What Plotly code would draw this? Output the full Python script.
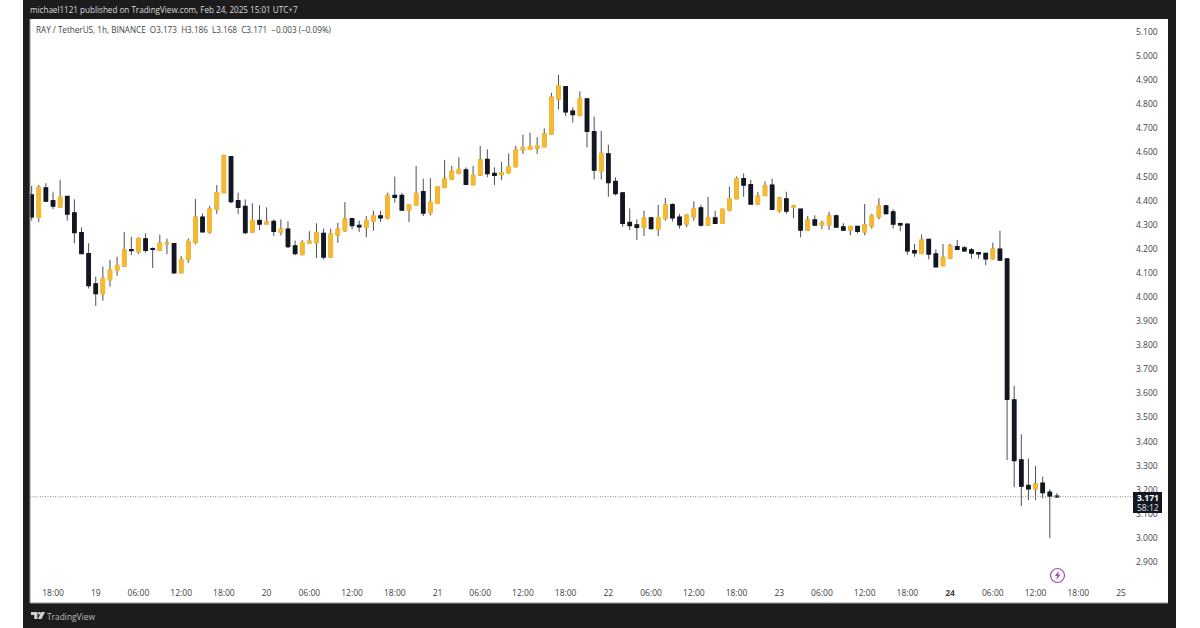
import pandas as pd
import plotly.graph_objects as go

# Hourly RAY/USDT candles
opens = [4.423,4.331,4.452,4.400,4.374,4.417,4.349,4.267,4.180,4.054,4.014,4.072,4.111,4.129,4.196,4.188,4.241,4.200,4.194,4.221,
 4.221,4.101,4.156,4.226,4.331,4.270,4.364,4.433,4.582,4.400,4.376,4.270,4.317,4.302,4.313,4.270,4.281,4.212,4.176,4.224,
 4.226,4.264,4.166,4.257,4.275,4.325,4.297,4.289,4.314,4.336,4.328,4.421,4.421,4.361,4.381,4.437,4.351,4.389,4.455,4.490,
 4.513,4.527,4.466,4.506,4.571,4.513,4.508,4.516,4.541,4.610,4.613,4.618,4.624,4.677,4.822,4.873,4.771,4.754,4.822,4.686,
 4.523,4.594,4.479,4.432,4.309,4.299,4.289,4.328,4.281,4.327,4.383,4.331,4.303,4.333,4.369,4.299,4.328,4.306,4.361,4.408,
 4.491,4.466,4.386,4.421,4.464,4.358,4.407,4.372,4.364,4.278,4.320,4.300,4.300,4.336,4.291,4.278,4.293,4.270,4.295,4.333,
 4.378,4.353,4.304,4.302,4.192,4.181,4.239,4.178,4.130,4.162,4.209,4.203,4.195,4.184,4.181,4.159,4.198,4.158,3.572,3.323,
 3.217,3.204,3.227,3.189,3.173]
highs = [4.461,4.465,4.472,4.434,4.486,4.419,4.405,4.289,4.223,4.084,4.126,4.154,4.167,4.270,4.250,4.248,4.264,4.206,4.259,4.242,
 4.222,4.170,4.243,4.407,4.347,4.378,4.465,4.591,4.584,4.433,4.405,4.389,4.381,4.372,4.322,4.322,4.314,4.234,4.236,4.273,
 4.306,4.284,4.284,4.308,4.394,4.328,4.317,4.336,4.358,4.358,4.433,4.500,4.433,4.386,4.544,4.491,4.493,4.458,4.569,4.544,
 4.580,4.538,4.544,4.627,4.613,4.538,4.560,4.596,4.627,4.674,4.682,4.663,4.700,4.848,4.922,4.874,4.787,4.854,4.823,4.749,
 4.690,4.632,4.497,4.433,4.368,4.322,4.358,4.333,4.382,4.411,4.389,4.345,4.345,4.397,4.383,4.416,4.358,4.364,4.458,4.500,
 4.513,4.486,4.436,4.480,4.491,4.416,4.437,4.382,4.364,4.336,4.339,4.317,4.353,4.343,4.306,4.295,4.295,4.386,4.345,4.410,
 4.383,4.364,4.309,4.302,4.220,4.260,4.239,4.198,4.220,4.220,4.237,4.212,4.203,4.184,4.181,4.226,4.275,4.160,3.631,3.430,
 3.329,3.298,3.254,3.202,3.186]
lows = [4.317,4.311,4.396,4.364,4.372,4.317,4.223,4.178,4.035,3.963,3.985,4.043,4.088,4.126,4.174,4.179,4.184,4.120,4.190,4.178,
 4.100,4.098,4.142,4.219,4.270,4.262,4.345,4.432,4.389,4.344,4.261,4.267,4.278,4.299,4.253,4.256,4.203,4.173,4.173,4.223,
 4.162,4.156,4.165,4.225,4.270,4.281,4.270,4.248,4.275,4.311,4.322,4.392,4.358,4.311,4.380,4.336,4.339,4.386,4.452,4.489,
 4.512,4.466,4.465,4.505,4.497,4.465,4.486,4.511,4.540,4.594,4.610,4.594,4.621,4.676,4.779,4.751,4.724,4.749,4.621,4.488,
 4.488,4.416,4.422,4.292,4.278,4.237,4.253,4.281,4.253,4.317,4.313,4.284,4.289,4.317,4.292,4.297,4.303,4.306,4.356,4.407,
 4.416,4.383,4.383,4.419,4.361,4.350,4.345,4.327,4.248,4.275,4.296,4.281,4.278,4.289,4.275,4.257,4.264,4.256,4.284,4.322,
 4.342,4.285,4.273,4.176,4.167,4.180,4.156,4.126,4.129,4.159,4.195,4.187,4.159,4.159,4.132,4.154,4.151,3.323,3.210,3.132,
 3.157,3.157,3.164,3.000,3.168]
closes = [4.333,4.455,4.398,4.378,4.414,4.345,4.268,4.181,4.048,4.014,4.077,4.111,4.131,4.195,4.193,4.242,4.194,4.198,4.223,4.223,
 4.101,4.156,4.230,4.331,4.271,4.365,4.433,4.585,4.396,4.372,4.268,4.317,4.303,4.311,4.273,4.281,4.210,4.181,4.226,4.231,
 4.267,4.166,4.261,4.281,4.324,4.297,4.292,4.317,4.336,4.329,4.421,4.414,4.361,4.383,4.430,4.349,4.393,4.458,4.490,4.522,
 4.529,4.468,4.505,4.569,4.513,4.505,4.516,4.541,4.610,4.621,4.625,4.628,4.677,4.829,4.877,4.769,4.758,4.823,4.688,4.527,
 4.596,4.475,4.430,4.306,4.297,4.289,4.327,4.284,4.329,4.382,4.329,4.300,4.339,4.367,4.299,4.328,4.306,4.364,4.408,4.491,
 4.465,4.386,4.419,4.462,4.364,4.411,4.357,4.377,4.278,4.320,4.299,4.307,4.336,4.291,4.278,4.293,4.273,4.300,4.336,4.378,
 4.347,4.303,4.300,4.192,4.184,4.237,4.178,4.126,4.165,4.212,4.198,4.192,4.183,4.180,4.159,4.199,4.154,3.575,3.321,3.215,
 3.204,3.224,3.188,3.174,3.171]

times = pd.date_range("2025-02-18 15:00", periods=len(opens), freq="h")
x_tick_times = pd.date_range("2025-02-18 18:00", "2025-02-25 00:00", freq="6h")
x_tick_labels = ["18:00","19","06:00","12:00","18:00","20","06:00","12:00","18:00","21","06:00","12:00","18:00",
                 "22","06:00","12:00","18:00","23","06:00","12:00","18:00","<b>24</b>","06:00","12:00","18:00","25"]
price_ticks = [5.1,5.0,4.9,4.8,4.7,4.6,4.5,4.4,4.3,4.2,4.1,4.0,3.9,3.8,3.7,3.6,3.5,3.4,3.3,3.2,3.1,3.0,2.9]
body_tops = [max(o, c) for o, c in zip(opens, closes)]
body_bottoms = [min(o, c) for o, c in zip(opens, closes)]

UP = "#f8b92e"
DOWN = "#131722"
WICK = "#4d4f55"
FRAME = "#1c1c1c"
FONT = "Open Sans, Noto Sans, sans-serif"
W, H = 1200, 628
L, R, T, B = 30, 65, 20, 46


def px(x):
    return (x - L) / (W - L - R)


def py(y):
    return 1 - (y - T) / (H - T - B)


fig = go.Figure()
fig.add_trace(go.Candlestick(
    x=times, open=opens, high=highs, low=lows, close=closes,
    increasing=dict(line=dict(color=WICK, width=1), fillcolor=UP),
    decreasing=dict(line=dict(color=WICK, width=1), fillcolor=DOWN),
    whiskerwidth=0, hoverinfo="skip", showlegend=False))
fig.add_trace(go.Candlestick(
    x=times, open=opens, high=body_tops, low=body_bottoms, close=closes,
    increasing=dict(line=dict(color=UP, width=1.5), fillcolor=UP),
    decreasing=dict(line=dict(color=DOWN, width=1.5), fillcolor=DOWN),
    whiskerwidth=0, hoverinfo="skip", showlegend=False))


def rect(x0, y0, x1, y1, color, **kw):
    return dict(type="rect", xref="paper", yref="paper", x0=px(x0), x1=px(x1), y0=py(y0), y1=py(y1),
                fillcolor=color, line=dict(width=0), layer="above", **kw)


shapes = [
    rect(23, 0, 1176, 19, FRAME),
    rect(23, 0, 30, 628, FRAME),
    rect(1168, 0, 1176, 628, FRAME),
    rect(23, 603, 1176, 628, FRAME),
    rect(30, 602.5, 1168, 603.5, "#9a9a9a"),
    rect(29.5, 19, 30.5, 603, "#9a9a9a"),
    dict(type="line", xref="paper", yref="y", x0=0, x1=1, y0=closes[-1], y1=closes[-1],
         line=dict(color="#8a8d92", width=1, dash="1px,1.5px"), layer="above"),
    rect(1133, 492, 1162, 513, "#131722"),
    # event badge
    dict(type="circle", xref="paper", yref="paper", x0=px(1050.5), x1=px(1064.5), y0=py(568.5), y1=py(582.5),
         fillcolor="white", line=dict(color="#a24bc0", width=1.2), layer="above"),
    dict(type="path", xref="paper", yref="paper", layer="above", fillcolor="#a24bc0", line=dict(width=0),
         path=f"M {px(1058.8)},{py(571)} L {px(1054.8)},{py(576)} L {px(1057.2)},{py(576)} L {px(1056.4)},{py(580)} "
              f"L {px(1060.6)},{py(574.6)} L {px(1058.2)},{py(574.6)} Z"),
    # TradingView mark
    dict(type="path", xref="paper", yref="paper", layer="above", fillcolor="#d0d0d0", line=dict(width=0),
         path=f"M {px(31)},{py(612)} L {px(37.5)},{py(612)} L {px(37.5)},{py(619)} L {px(34.2)},{py(619)} "
              f"L {px(34.2)},{py(615)} L {px(31)},{py(615)} Z"),
    dict(type="path", xref="paper", yref="paper", layer="above", fillcolor="#d0d0d0", line=dict(width=0),
         path=f"M {px(41)},{py(612)} L {px(45)},{py(612)} L {px(41.5)},{py(619)} L {px(38)},{py(619)} Z"),
    dict(type="circle", xref="paper", yref="paper", layer="above", fillcolor="#d0d0d0", line=dict(width=0),
         x0=px(38), x1=px(40.6), y0=py(612), y1=py(614.6)),
]


def note(x, y, text, size, color, anchor="left"):
    return dict(xref="paper", yref="paper", x=px(x), y=py(y), text=text, showarrow=False, xanchor=anchor,
                yanchor="middle", font=dict(family=FONT, size=size, color=color), borderpad=0, borderwidth=0)


annotations = [
    note(30, 9.5, "michael1121 published on TradingView.com, Feb 24, 2025 15:01 UTC+7", 8.1, "#dcdcdc"),
    note(36, 29, "RAY / TetherUS, 1h, BINANCE&nbsp;&nbsp;O3.173&nbsp;&nbsp;H3.186&nbsp;&nbsp;L3.168&nbsp;&nbsp;C3.171&nbsp;&nbsp;−0.003 (−0.09%)",
         8.15, "#3c3f46"),
    note(1147.5, 497, "<b>3.171</b>", 8.5, "#ffffff", "center"),
    note(1147.5, 507.5, "58:12", 8.5, "#e6e6e6", "center"),
    note(47, 616, "TradingView", 8.4, "#bdbdbd"),
]

fig.update_layout(
    width=W, height=H, autosize=False,
    margin=dict(l=L, r=R, t=T, b=B, pad=0),
    paper_bgcolor="white", plot_bgcolor="white",
    showlegend=False, boxgap=0.35, boxmode="overlay",
    font=dict(family=FONT, size=8.5, color="#3c3f46"),
    shapes=shapes, annotations=annotations,
    xaxis=dict(type="date", range=["2025-02-18 14:46", "2025-02-25 01:58"],
               rangeslider=dict(visible=False), showgrid=False, zeroline=False, showline=False, ticks="",
               tickmode="array", tickvals=list(x_tick_times), ticktext=x_tick_labels,
               ticklabelstandoff=4,
               tickangle=0, tickfont=dict(family=FONT, size=8.5, color="#3c3f46")),
    yaxis=dict(side="right", range=[2.8169, 5.1498], showgrid=False, zeroline=False, showline=False, ticks="",
               tickmode="array", tickvals=price_ticks, ticktext=[f"{p:.3f}" for p in price_ticks],
               tickfont=dict(family=FONT, size=8.5, color="#3c3f46")),
)

fig.write_html("out.html", config=dict(displayModeBar=False), post_script="document.body.style.margin='0';")
